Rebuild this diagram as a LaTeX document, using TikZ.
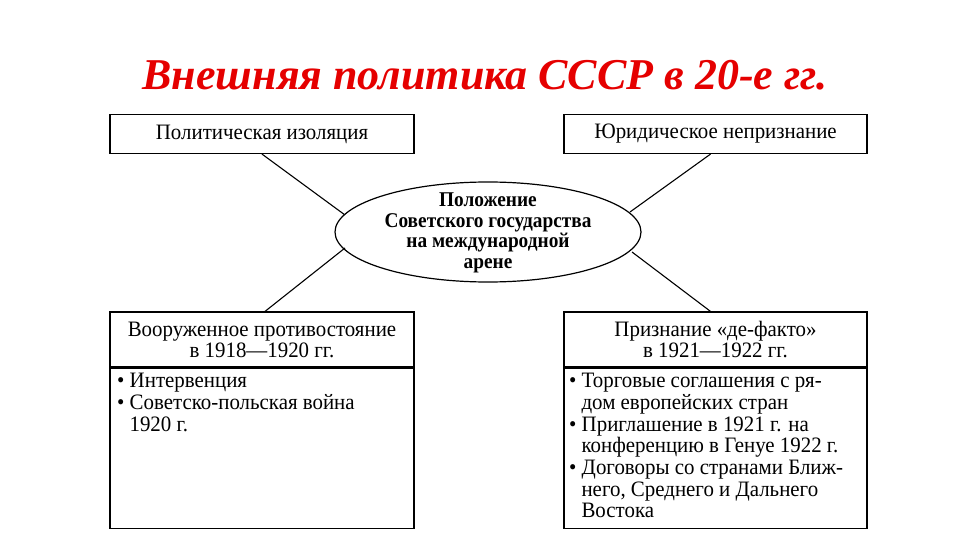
\documentclass[tikz,border=0pt]{standalone}
\usepackage{fontspec}
\setmainfont{Liberation Serif}
\usetikzlibrary{shapes.geometric}
\begin{document}
\begin{tikzpicture}[x=1pt,y=-1pt,
  bx/.style={draw,line width=1.2pt,inner sep=0pt,font=\fontsize{22}{20}\selectfont,align=center},
  ln/.style={line width=1.1pt}]
\useasboundingbox (0,0) rectangle (960,540);
\node[font=\bfseries\itshape\fontsize{44}{48}\selectfont,text=red!90!black] (title) at (485,75) {Внешняя политика СССР в 20-е гг.};
\node[bx,minimum width=304pt,minimum height=39pt] (tl) at (262,134) {\scalebox{0.95}[1]{Политическая изоляция}};
\node[bx,minimum width=303pt,minimum height=39pt] (tr) at (715.5,134) {\scalebox{0.95}[1]{Юридическое непризнание}};
\draw[line width=1.2pt] (488,232) ellipse [x radius=153, y radius=50];
\node[inner sep=0pt,align=center] (c) at (488,233) {\scalebox{0.92}[1]{\parbox{240pt}{\centering\bfseries\fontsize{21}{20.5}\selectfont Положение\\Советского государства\\на международной\\арене}}};
\node[bx,minimum width=304pt,minimum height=55pt] (bl) at (262,339.5) {\scalebox{0.95}[1]{\parbox{300pt}{\centering\fontsize{22}{21}\selectfont Вооруженное противостояние\\в 1918—1920 гг.}}};
\node[bx,minimum width=303pt,minimum height=55pt] (br) at (715.5,339.5) {\scalebox{0.95}[1]{\parbox{300pt}{\centering\fontsize{22}{21}\selectfont Признание «де-факто»\\в 1921—1922 гг.}}};
\node[draw,line width=1.2pt,minimum width=304pt,minimum height=160pt,inner sep=0pt,anchor=north] (blb) at (bl.south) {};
\node[draw,line width=1.2pt,minimum width=303pt,minimum height=160pt,inner sep=0pt,anchor=north] (brb) at (br.south) {};
\node[anchor=north west,inner sep=0pt] (blt) at (117,373) {\scalebox{0.95}[1]{\parbox{310pt}{\fontsize{22}{22}\selectfont • Интервенция\\• Советско-польская война\\\hspace*{13pt}1920 г.}}};
\node[anchor=north west,inner sep=0pt] (brt) at (569,373) {\scalebox{0.95}[1]{\parbox{310pt}{\fontsize{22}{21.7}\selectfont • Торговые соглашения с ря-\\\hspace*{13pt}дом европейских стран\\• Приглашение в 1921 г. на\\\hspace*{13pt}конференцию в Генуе 1922 г.\\• Договоры со странами Ближ-\\\hspace*{13pt}него, Среднего и Дальнего\\\hspace*{13pt}Востока}}};
\coordinate (c1) at (345,215); \coordinate (c2) at (630,212);
\coordinate (c3) at (345,248); \coordinate (c4) at (632,252);
\draw[ln] (tl.south) -- (c1);
\draw[ln] (tr.south) ++(-5,0) -- (c2);
\draw[ln] (bl.north) ++(3,0) -- (c3);
\draw[ln] (br.north) ++(-5,0) -- (c4);
\end{tikzpicture}
\end{document}
